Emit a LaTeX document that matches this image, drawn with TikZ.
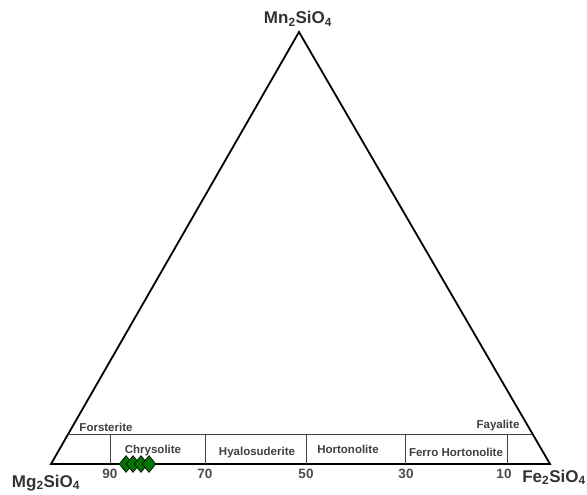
\documentclass[tikz,border=0pt]{standalone}
\usepackage{fontspec}
\setmainfont{Liberation Sans}
\usetikzlibrary{shapes.geometric}
\begin{document}
\begin{tikzpicture}[x=1pt,y=-1pt,
  tri/.style={line width=1.8pt,line join=miter},
  fld/.style={line width=0.9pt,draw=black!75},
  comp/.style={font=\bfseries\fontsize{17}{19}\selectfont,text=black!80,inner sep=0pt,anchor=base},
  tickl/.style={font=\bfseries\fontsize{13.5}{15}\selectfont,text=black!70,inner sep=0pt,anchor=base},
  mineral/.style={font=\bfseries\fontsize{11.5}{13}\selectfont,text=black!75,inner sep=0pt,anchor=base},
  datapt/.style={diamond,draw=black,fill=green!45!black,line width=0.6pt,minimum width=14pt,minimum height=17pt,inner sep=0pt}]
\useasboundingbox (0,0) rectangle (587,495);
\coordinate (A) at (51,464);
\coordinate (B) at (550,464);
\coordinate (C) at (299,32);
\draw[tri] (A) -- (B) -- (C) -- cycle;
% field boxes
\coordinate (L) at (68,434);
\coordinate (R) at (532,434);
\draw[fld] (L) -- (R);
\foreach \x/\n in {110/a,205/b,306/c,405/d,507/e}{
  \coordinate (t\n) at (\x,434);
  \coordinate (b\n) at (\x,464);
  \draw[fld] (t\n) -- (b\n);
}
% labels
\node[comp] (mn) at (298,24) {Mn$_{\mathbf 2}$SiO$_{\mathbf 4}$};
\node[comp] (mg) at (46,487) {Mg$_{\mathbf 2}$SiO$_{\mathbf 4}$};
\node[comp] (fe) at (554,482) {Fe$_{\mathbf 2}$SiO$_{\mathbf 4}$};
\node[tickl] (n90) at (110,478) {90};
\node[tickl] (n70) at (205,478) {70};
\node[tickl] (n50) at (306,478) {50};
\node[tickl] (n30) at (406,478) {30};
\node[tickl] (n10) at (504,478) {10};
\node[mineral] (fo) at (106,431) {Forsterite};
\node[mineral] (fa) at (498,428) {Fayalite};
\node[mineral] (ch) at (153,453) {Chrysolite};
\node[mineral] (hy) at (257,455) {Hyalosuderite};
\node[mineral] (ho) at (348,453) {Hortonolite};
\node[mineral] (fh) at (456,456) {Ferro Hortonolite};
% data points
\node[datapt] (p1) at (126,464) {};
\node[datapt] (p2) at (133,464) {};
\node[datapt] (p3) at (141,464) {};
\node[datapt] (p4) at (149,464) {};
\end{tikzpicture}
\end{document}
